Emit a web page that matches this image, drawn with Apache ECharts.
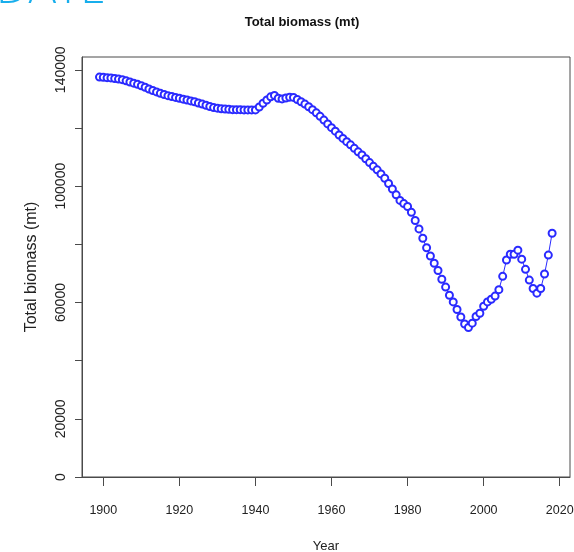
<!DOCTYPE html>
<html>
<head>
<meta charset="utf-8">
<script src="https://cdn.jsdelivr.net/npm/echarts@6/dist/echarts.min.js"></script>
<style>
html,body{margin:0;padding:0;background:#fff;}
#chart{width:574px;height:552px;}
</style>
</head>
<body>
<div id="chart"></div>
<script>
// Data
const years = [
  1899,1900,1901,1902,1903,1904,1905,1906,1907,1908,1909,
  1910,1911,1912,1913,1914,1915,1916,1917,1918,1919,
  1920,1921,1922,1923,1924,1925,1926,1927,1928,1929,
  1930,1931,1932,1933,1934,1935,1936,1937,1938,1939,
  1940,1941,1942,1943,1944,1945,1946,1947,1948,1949,
  1950,1951,1952,1953,1954,1955,1956,1957,1958,1959,
  1960,1961,1962,1963,1964,1965,1966,1967,1968,1969,
  1970,1971,1972,1973,1974,1975,1976,1977,1978,1979,
  1980,1981,1982,1983,1984,1985,1986,1987,1988,1989,
  1990,1991,1992,1993,1994,1995,1996,1997,1998,1999,
  2000,2001,2002,2003,2004,2005,2006,2007,2008,2009,
  2010,2011,2012,2013,2014,2015,2016,2017,2018
];
const biomass = [
  137500,137400,137300,137200,137000,136800,136600,136200,135800,135400,135000,
  134500,134000,133400,132900,132400,131900,131500,131100,130800,130500,
  130200,129900,129600,129300,129000,128600,128200,127800,127400,127000,
  126800,126600,126500,126400,126300,126300,126300,126200,126200,126200,
  126200,127200,128500,129600,130700,131200,130200,130000,130300,130600,
  130500,129800,129000,128200,127300,126300,125200,124000,122700,121400,
  120100,118900,117600,116400,115300,114200,113000,111800,110700,109400,
  108100,106800,105600,104200,102700,100900,99000,97000,95100,94000,
  93000,91000,88200,85300,82100,78800,76000,73500,71000,68000,
  65300,62500,60200,57600,55000,52600,51400,52900,55200,56300,
  58700,60200,61100,62200,64400,69000,74600,76600,76600,78000,
  74900,71400,67700,64800,63200,64800,69800,76300,83800
];
const xTicks = [1900,1920,1940,1960,1980,2000,2020];
const yTickValues = [0,20000,40000,60000,80000,100000,120000,140000];
const yLabelValues = [0,20000,60000,100000,140000];

const chart = echarts.init(document.getElementById('chart'), null, {renderer:'canvas'});
const axisColor = '#4a4a4a';
const textColor = '#222';
const font = '"Liberation Sans", Arial, sans-serif';

const option = {
  backgroundColor: '#ffffff',
  animation: false,
  title: {
    text: 'Total biomass (mt)',
    left: 297,
    top: 11,
    textAlign: 'center',
    textStyle: {fontFamily: font, fontSize: 13, fontWeight: 'bold', color: '#111'}
  },
  graphic: [{
    type: 'text',
    left: -4,
    top: -33,
    style: {text: 'DATE', fontFamily: '"Open Sans", "Liberation Sans", sans-serif', fontSize: 46, fontWeight: 300, fill: '#18aeec'}
  }],
  grid: {
    left: 82, top: 57, right: 4, bottom: 75,
    outerBoundsMode: 'none',
    containLabel: false,
    show: true, borderColor: axisColor, borderWidth: 1, backgroundColor: 'transparent'
  },
  xAxis: {
    type: 'value',
    min: 1894.4,
    max: 2022.7,
    name: 'Year',
    nameLocation: 'middle',
    nameGap: 63,
    nameTextStyle: {fontFamily: font, fontSize: 13, color: textColor},
    axisLine: {show: true, onZero: false, lineStyle: {color: axisColor}},
    axisTick: {show: true, length: 9, customValues: xTicks, lineStyle: {color: axisColor}},
    axisLabel: {customValues: xTicks, margin: 27, fontFamily: font, fontSize: 12.5, color: textColor,
      formatter: v => String(v)},
    splitLine: {show: false}
  },
  yAxis: {
    type: 'value',
    min: 0,
    max: 144400,
    name: 'Total biomass (mt)',
    nameLocation: 'middle',
    nameGap: 42,
    nameTextStyle: {fontFamily: font, fontSize: 16, color: textColor},
    axisLine: {show: true, lineStyle: {color: axisColor}},
    axisTick: {show: true, length: 7, customValues: yTickValues, lineStyle: {color: axisColor}},
    axisLabel: {customValues: yLabelValues, rotate: 90, margin: 14, fontFamily: font, fontSize: 14, color: textColor,
      formatter: v => String(v)},
    splitLine: {show: false}
  },
  series: [{
    type: 'line',
    data: years.map((y, i) => [y, biomass[i]]),
    symbol: 'emptyCircle',
    symbolSize: 7,
    showAllSymbol: true,
    lineStyle: {color: '#2a2aff', width: 1},
    itemStyle: {color: '#2a2aff', borderColor: '#2a2aff', borderWidth: 1.3},
    emphasis: {disabled: true}
  }]
};
chart.setOption(option);
</script>
</body>
</html>
